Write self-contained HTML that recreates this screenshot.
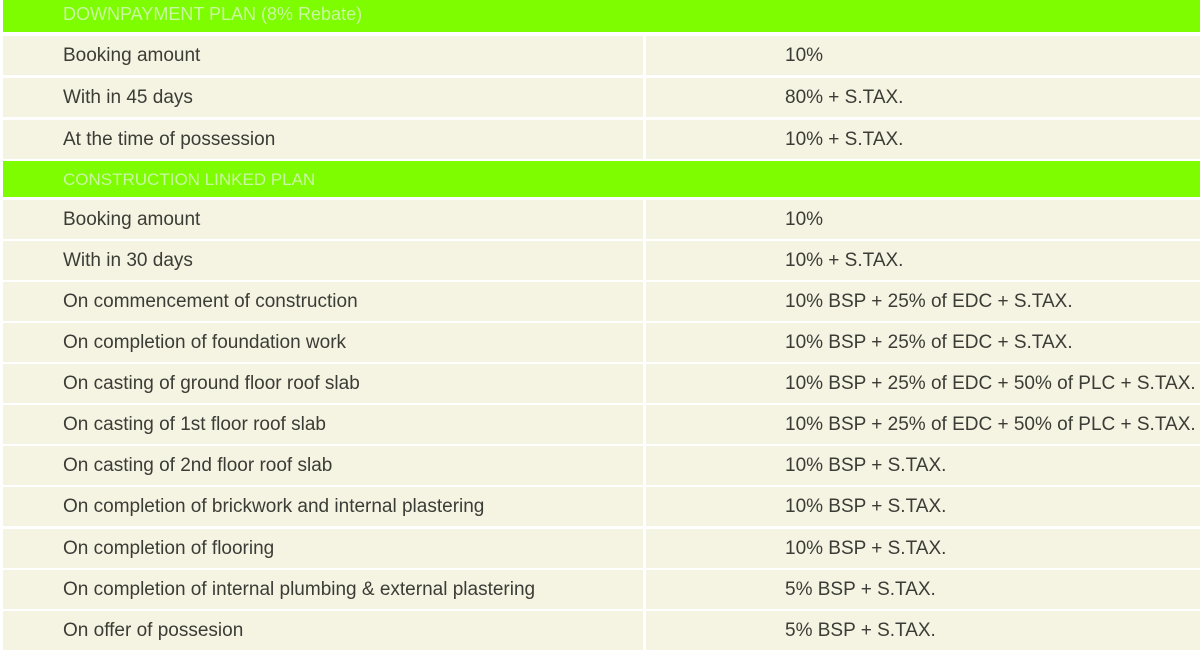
<!DOCTYPE html>
<html><head><meta charset="utf-8"><style>
body{margin:0;width:1200px;height:652px;background:#fff;position:relative;overflow:hidden;font-family:"Liberation Sans",sans-serif;color:#3c3c36}
.h{position:absolute;left:3px;width:1197px;background:#7efc00;color:#c9f9a0;font-size:17px;line-height:1}
.r{position:absolute;left:3px;width:1197px;height:39px;background:#f5f4e3;font-size:19px}
.r .d{position:absolute;left:640px;top:0;width:3px;height:39px;background:#fff}
.r span{position:absolute;top:9px;line-height:22px;white-space:nowrap}
.a{left:60px}.b{left:782px}
</style></head><body>
<div class="h" style="top:0;height:32px"><span style="position:absolute;left:60px;top:5px;font-size:18px">DOWNPAYMENT PLAN (8% Rebate)</span></div>
<div class="r" style="top:36px"><div class="d"></div><span class="a">Booking amount</span><span class="b">10%</span></div>
<div class="r" style="top:78px"><div class="d"></div><span class="a">With in 45 days</span><span class="b">80% + S.TAX.</span></div>
<div class="r" style="top:120px"><div class="d"></div><span class="a">At the time of possession</span><span class="b">10% + S.TAX.</span></div>
<div class="h" style="top:161px;height:36px"><span style="position:absolute;left:60px;top:10px">CONSTRUCTION LINKED PLAN</span></div>
<div class="r" style="top:200px"><div class="d"></div><span class="a">Booking amount</span><span class="b">10%</span></div>
<div class="r" style="top:241px"><div class="d"></div><span class="a">With in 30 days</span><span class="b">10% + S.TAX.</span></div>
<div class="r" style="top:282px"><div class="d"></div><span class="a">On commencement of construction</span><span class="b">10% BSP + 25% of EDC + S.TAX.</span></div>
<div class="r" style="top:323px"><div class="d"></div><span class="a">On completion of foundation work</span><span class="b">10% BSP + 25% of EDC + S.TAX.</span></div>
<div class="r" style="top:364px"><div class="d"></div><span class="a">On casting of ground floor roof slab</span><span class="b">10% BSP + 25% of EDC + 50% of PLC + S.TAX.</span></div>
<div class="r" style="top:405px"><div class="d"></div><span class="a">On casting of 1st floor roof slab</span><span class="b">10% BSP + 25% of EDC + 50% of PLC + S.TAX.</span></div>
<div class="r" style="top:446px"><div class="d"></div><span class="a">On casting of 2nd floor roof slab</span><span class="b">10% BSP + S.TAX.</span></div>
<div class="r" style="top:487px"><div class="d"></div><span class="a">On completion of brickwork and internal plastering</span><span class="b">10% BSP + S.TAX.</span></div>
<div class="r" style="top:529px"><div class="d"></div><span class="a">On completion of flooring</span><span class="b">10% BSP + S.TAX.</span></div>
<div class="r" style="top:570px"><div class="d"></div><span class="a">On completion of internal plumbing &amp; external plastering</span><span class="b">5% BSP + S.TAX.</span></div>
<div class="r" style="top:611px"><div class="d"></div><span class="a">On offer of possesion</span><span class="b">5% BSP + S.TAX.</span></div>
</body></html>
